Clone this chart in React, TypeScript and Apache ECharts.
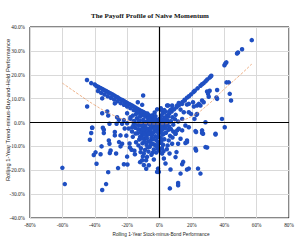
import React, { useEffect, useRef } from "react";
import * as echarts from "echarts";

const titleText = "The Payoff Profile of Naive Momentum";
const xAxisName = "Rolling 1-Year Stock-minus-Bond Performance";
const yAxisName = "Rolling 1-Year Trend-minus-Buy-and-Hold Performance";

const upperLeftBand: number[][] = [
  [-44.8, 17.8], [-42.2, 16.5], [-40, 15.9], [-39, 15.3], [-38, 15.0], [-37, 14.6], [-36, 14.3],
  [-35, 13.9], [-34, 13.5], [-33, 13.2], [-32, 12.8], [-31, 12.4], [-30, 12.1], [-29, 11.7],
  [-28, 11.3], [-27, 10.9], [-26, 10.6], [-25, 10.1], [-24, 9.7], [-23, 9.4], [-22, 9.0],
  [-21, 8.6], [-20, 8.2], [-19, 7.8], [-18, 7.5], [-17, 7.1], [-16, 6.7], [-15, 6.3], [-14, 5.9],
  [-13, 5.5], [-12, 5.1], [-11, 4.7], [-10, 4.4], [-9, 4.0], [-8, 3.6], [-7, 3.2], [-6, 2.8],
  [-5, 2.4], [-4, 2.0], [-3, 1.6], [-2, 1.2], [-1, 0.8],
  [-38, 13.2], [-36, 12.4], [-34, 11.7], [-32, 11.0], [-30, 10.3], [-28, 9.6], [-26, 8.9],
  [-24, 8.1], [-22, 7.4], [-20, 6.7], [-18, 6.0], [-16, 5.2], [-14, 4.5], [-12, 3.8], [-10, 3.1],
  [-8, 2.4], [-6, 1.7], [-4, 0.9], [-2, 0.2],
];

const upperLeftScatter: number[][] = [
  [-44.7, 6.7], [-35.4, 10.1], [-35.4, 3.9], [-32.3, 4.6], [-31.7, 2.9], [-27.6, 8], [-26.2, 2.2],
  [-25.1, 1.1], [-20, 3.9], [-17.9, 2.2], [-13.4, 8.5], [-10.7, 7.4], [-10.1, 11.3], [-13.8, 4.3],
  [-16.5, 2.9], [-15.9, 0.1], [-20, -0.3], [-23.1, -0.5], [-26.5, -0.5], [-30.9, -0.5], [-35, -2.2],
  [-41.6, -2.2],
];

const upperRightBand: number[][] = [
  [1.5, 1.2], [3, 2], [4.5, 2.8], [6, 3.7], [7.5, 4.6], [9, 5.5], [10.5, 6.4], [11.9, 7.2], [13, 7.8],
  [14.2, 8.6], [15.5, 9.5], [17, 10.4], [18.2, 11], [19.5, 11.8], [21, 12.8], [21.8, 13.3],
  [23.5, 14.3], [25.3, 15.4], [26.3, 16], [27.3, 16.5], [28.5, 17.3], [29.5, 18], [31, 18.8],
  [31.5, 19.2], [32, 19.6], [40.1, 24], [40.7, 24.7], [41.3, 25.2], [47.9, 28.9], [48.5, 29.3],
  [51, 30.7], [57, 34.5],
];

const upperRightScatter: number[][] = [
  [1.6, 5], [4.7, 7.1], [5.3, 7.1], [6.8, 5.3], [7.8, 5.7], [7.8, 7.1], [10.9, 7.1], [11.9, 8.2],
  [13, 5.4], [14, 7.8], [15, 4.3], [15.6, 9.2], [17, 7.5], [18.1, 7.8], [20.7, 8.5], [21.2, 6.7],
  [23.2, 7.1], [24.3, 7.8], [25.3, 7.1], [26.3, 9.2], [27.3, 8.5], [29.4, 13], [30, 12],
  [30.4, 10.8], [31, 13.3], [35.2, 10.5], [35.6, 13.6], [35.6, 9.9], [41.4, 16.8], [42.8, 16.8],
  [43.4, 12], [44.2, 9.2], [38.6, 1.5], [40.3, -2], [28.4, 0.1], [26.3, -3.3], [26.9, -4.7],
  [22.2, -3.6], [34.6, -5], [22.8, 3.2], [18.1, 4.3], [19.5, 3.6], [23.2, 3.6], [21.6, 1.5],
  [14, 1.5], [11.5, 0.4], [16, -1.25], [11.9, -2.6], [9.9, -4.7], [17, -7.5], [22.2, -11],
  [29.4, -10.5],
];

const centralCloud: number[][] = [
  [-18, 1.5], [-16, -1], [-14, 1.8], [-13, 0.5], [-12, 2.5], [-11, -0.5], [-10, 1.2], [-9, 2.8],
  [-8, 0.2], [-7, 1.6], [-6, -0.8], [-5, 0.9], [-4.5, 3.0], [-4, -0.3], [-3, 1.0], [-2.5, 2.6],
  [-2, -1.2], [-1, 0.4], [0, 1.5], [0.5, -0.6], [1, 2.8], [1.5, 0.3], [2, 3.8], [2.5, -1.5],
  [3, 1.2], [3.5, 4.5], [4, -0.5], [5, 0.8], [5.5, 2.5], [6, -1.8], [7, 0.5], [8, 2.2],
  [8.5, -0.9], [9.5, 1.4], [10, 3.2], [-19, -2.5], [-17, -3.8], [-15, -2.2], [-13.5, -4.5],
  [-12, -3], [-11, -5.5], [-10, -2], [-9.5, -6.8], [-8.5, -3.5], [-7.5, -5.2], [-7, -8],
  [-6.5, -2.6], [-6, -10.2], [-5.5, -4.1], [-5, -6.5], [-4.5, -8.8], [-4, -1.8], [-3.5, -11.3],
  [-3, -3.6], [-2.5, -5.8], [-2, -7.4], [-1.5, -9.6], [-1, -2.8], [-0.5, -4.7], [0, -6.2],
  [0.5, -8.5], [1, -3.2], [1.5, -10.8], [2, -5.1], [3, -7], [3.5, -2.4], [4, -4.3], [5, -9.6],
  [5.5, -3.1], [6.5, -5.6], [7, -2.7], [8, -6.3], [8.5, -3.8], [-16.5, -6], [-14.5, -8.3],
  [-13, -9.6], [-12.5, -7.1], [-11.5, -10.8], [-10.5, -8.7], [-9, -11.5], [-8, -9.3],
  [-6.8, -12.2], [-18.5, -8.8], [-20.5, -5.5], [-21.5, -2.5], [-22, 1], [-15.5, -11.8],
  [2.5, -12], [4.5, -11.2], [-3, 4.2], [-7.5, 3.8], [-1.5, 5.5], [0.8, 6], [3, 5.2], [6, 4.6],
  [-11, 4.5], [-14.5, 3.5], [-5, -13.5], [-2, -12.6], [0, -11.8], [-8.8, -1.2], [-6.2, 0.5],
  [-3.8, -2.2], [-1.8, -0.5], [0.3, -2], [2.2, 0.6], [4.2, 1.8], [-9.8, -4.2], [-7.8, -6.6],
  [-5.8, -7.8], [-3.2, -9.2], [-1.2, -6.1], [1.2, -7.8], [-12.8, -1.2], [-15.8, 0.6],
];

const denseCore: number[][] = [
  [-14, -0.6], [-12.2, 0.8], [-10.8, -1.5], [-9.5, 0.3], [-8.2, -2.4], [-7.2, -0.3], [-6, 1.2],
  [-5.2, -1.6], [-4.2, 0.4], [-3.4, -0.9], [-2.6, 0.2], [-1.6, -1.8], [-0.8, -0.3], [0.2, 0.6],
  [1.2, -1.1], [2.2, -0.4], [3.4, 0.2], [4.6, -1.2], [5.8, 0.1], [-13.2, -2.8], [-11.6, -4],
  [-10.2, -3], [-8.9, -5.2], [-7.6, -3.9], [-6.6, -4.8], [-5.6, -2.9], [-4.6, -5.2], [-3.8, -4.2],
  [-2.8, -2.6], [-1.8, -3.8], [-0.6, -2.2], [0.6, -4], [1.8, -2.8], [2.8, -4.6], [-9.2, -8.1],
  [-7.4, -10.4], [-5.2, -9.1], [-3.9, -6.9], [-2.2, -9.8], [-0.8, -8.3], [0.8, -6.6], [-12, -6],
  [-10.6, -6.7], [-14.8, -4.6], [-16.8, -2], [-4.2, -12.6], [-1, -11], [2.2, -9.3],
];

const lowerLeftScatter: number[][] = [
  [-60, -19], [-58.5, -25.8], [-35.4, -28.3], [-33, -25.8], [-31.7, -20.8], [-35.8, -10],
  [-38.9, -17.3], [-40.6, -13.6], [-39.5, -12.5], [-36.4, -13.3], [-43, -7.2], [-42.2, -4.4],
  [-41.6, -2.2], [-34.4, -4.4], [-34.4, -3], [-30.9, -8.9], [-30.2, -11.7], [-30.7, -12.8],
  [-27.6, -4], [-27.6, -5.4], [-26.8, -13], [-25.6, -19.1], [-24.1, -10], [-24.1, -5.4],
  [-23.1, -8.9], [-22, -17.5], [-19.8, -17.6], [-20, -14.3], [-18.3, -10.5], [-17.3, -11.4],
  [-15.2, -13.3], [-12, -16.6], [-9.7, -17.8], [-8.2, -19.4], [-3.5, -15.5], [-0.9, -19.3],
  [-0.4, -20.7], [-25, -8.2], [-31.3, -7.5], [-10.3, -14.2], [-7.7, -14.4], [-6.6, -17.9],
  [-8.3, -15.8], [-10.7, -15.8], [-11.7, -12.4], [-9.7, -13],
];

const lowerRightScatter: number[][] = [
  [34.6, -4.7], [26.3, -4.4], [22.6, -4], [18.1, -2], [17, -8.2], [16, -8.6], [28.4, -10.3],
  [22.6, -11.7], [23.8, -19.3], [25.3, -21.4], [18.1, -19.3], [17, -19.7], [14.6, -16.5],
  [14, -17.5], [13, -21.4], [11.5, -25.3], [11.5, -26.3], [6.4, -27.6], [10.5, -12.4],
  [9.9, -14.5], [6.2, -13], [3.7, -17.2], [6.8, -19.7], [-1.5, -20.7], [1.6, -13], [2.7, -15.1],
  [7.8, -8.9], [11.5, -8.9], [13, -6.8], [5.7, -7.5], [9.9, -4.7], [14, -3.3], [10.9, -3.3],
];

const trendX = [-60, -50, -40, -30, -20, -10, 0, 10, 20, 30, 40, 50, 57];
const trendY = [16.5, 11.8, 7.3, 3.5, 0.9, -0.4, -0.6, 0.3, 2.6, 7.5, 14, 20, 24.5];

export default function App() {
  const ref = useRef<HTMLDivElement>(null);
  useEffect(() => {
    document.body.style.margin = "0";
    if (!ref.current) return;
    const chart = echarts.init(ref.current, undefined, { renderer: "svg" });
    const points = [
      ...upperLeftBand, ...upperLeftScatter, ...upperRightBand, ...upperRightScatter,
      ...centralCloud, ...denseCore, ...lowerLeftScatter, ...lowerRightScatter,
    ];
    const tickFont = { fontFamily: "Liberation Serif", fontSize: 5.3, color: "#222" };
    chart.setOption({
      animation: false,
      backgroundColor: "#fff",
      title: {
        text: titleText,
        left: "center",
        top: 7,
        textStyle: { fontFamily: "Liberation Serif", fontSize: 7, fontWeight: "bold", color: "#111" },
      },
      grid: { left: 30, right: 11, top: 27, bottom: 31, show: true, borderColor: "#111", borderWidth: 1 },
      xAxis: {
        type: "value", min: -80, max: 80, interval: 20,
        axisLine: { show: false }, axisTick: { show: false },
        splitLine: { lineStyle: { color: "#d9d9d9", width: 1 } },
        axisLabel: { ...tickFont, margin: 4, formatter: (v: number) => v + "%" },
      },
      yAxis: {
        type: "value", min: -40, max: 40, interval: 10,
        axisLine: { show: false }, axisTick: { show: false },
        splitLine: { lineStyle: { color: "#d9d9d9", width: 1 } },
        axisLabel: { ...tickFont, margin: 5, formatter: (v: number) => v.toFixed(1) + "%" },
      },
      graphic: [
        {
          type: "text", x: 8, y: 110, rotation: Math.PI / 2,
          style: { text: yAxisName, fontFamily: "Liberation Sans", fontSize: 5.8, fill: "#222", align: "center", verticalAlign: "middle" },
        },
        {
          type: "text", x: 161, y: 234,
          style: { text: xAxisName, fontFamily: "Liberation Sans", fontSize: 4.7, fill: "#222", align: "center", verticalAlign: "middle" },
        },
      ],
      series: [
        {
          type: "scatter",
          data: points,
          symbolSize: 4.5,
          itemStyle: { color: "#1f4fc2", opacity: 1 },
          markLine: {
            silent: true, symbol: "none", label: { show: false },
            lineStyle: { color: "#000", width: 1.2, type: "solid" },
            data: [{ xAxis: 0 }, { yAxis: 0 }],
          },
          z: 3,
        },
        {
          type: "line",
          data: trendX.map((x, i) => [x, trendY[i]]),
          smooth: true, showSymbol: false,
          lineStyle: { color: "#e8935a", width: 0.7, type: "dashed" },
          z: 4,
        },
      ],
    });
    return () => chart.dispose();
  }, []);
  return <div ref={ref} style={{ width: 300, height: 249 }} />;
}
